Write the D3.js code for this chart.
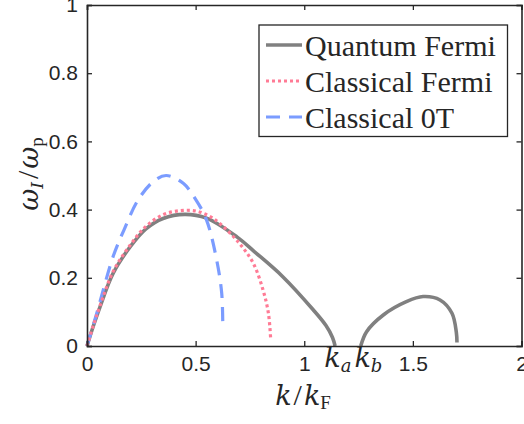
<!DOCTYPE html>
<html>
<head>
<meta charset="utf-8">
<script src="https://cdn.jsdelivr.net/npm/d3@7"></script>
<style>
  body { margin: 0; background: #fff; }
  svg text { fill: #262626; }
  .ser { font-family: "Liberation Serif", "Times New Roman", serif; }
  .it { font-family: "DejaVu Serif", serif; font-style: italic; }
</style>
</head>
<body>
<div id="canvas"></div>
<script>
// data
const kQuantumA = [0, 0.03, 0.06, 0.12, 0.2, 0.27, 0.35, 0.45, 0.55, 0.69, 0.77, 0.9, 1.04, 1.1, 1.13, 1.142];
const wQuantumA = [0, 0.06, 0.115, 0.213, 0.292, 0.343, 0.374, 0.386, 0.375, 0.32, 0.277, 0.204, 0.107, 0.06, 0.025, 0];
const kQuantumB = [1.26, 1.287, 1.364, 1.47, 1.547, 1.625, 1.68, 1.70, 1.703];
const wQuantumB = [0, 0.042, 0.091, 0.13, 0.145, 0.135, 0.096, 0.04, 0.01];
const kClassFermi = [0, 0.03, 0.06, 0.12, 0.2, 0.27, 0.35, 0.43, 0.5, 0.56, 0.61, 0.70, 0.765, 0.81, 0.835, 0.845];
const wClassFermi = [0, 0.062, 0.118, 0.218, 0.297, 0.35, 0.385, 0.397, 0.396, 0.382, 0.36, 0.302, 0.243, 0.165, 0.096, 0.025];
const kClass0T = [0, 0.045, 0.12, 0.17, 0.235, 0.305, 0.364, 0.443, 0.5, 0.55, 0.597, 0.62, 0.625];
const wClass0T = [0, 0.096, 0.262, 0.34, 0.428, 0.482, 0.50, 0.477, 0.43, 0.37, 0.252, 0.155, 0.06];

const xTicks = [0, 0.5, 1, 1.5, 2];
const xTickLabels = ['0', '0.5', '1', '1.5', '2'];
const yTicks = [0, 0.2, 0.4, 0.6, 0.8, 1];
const yTickLabels = ['0', '0.2', '0.4', '0.6', '0.8', '1'];
const legendNames = ['Quantum Fermi', 'Classical Fermi', 'Classical 0T'];

const width = 524;
const height = 424;
const margin = { top: 5, left: 87, right: 2.5, bottom: 78 };

const svg = d3.select('#canvas').append('svg')
    .attr('width', width)
    .attr('height', height)
    .attr('viewBox', [0, 0, width, height]);

const xScale = d3.scaleLinear().domain([0, 2]).range([margin.left, width - margin.right]);
const yScale = d3.scaleLinear().domain([0, 1]).range([height - margin.bottom, margin.top]);

const axisColor = '#262626';
const line = d3.line()
    .x(d => xScale(d[0]))
    .y(d => yScale(d[1]))
    .curve(d3.curveCatmullRom.alpha(0.5));

const styles = [
  { color: '#808080', width: 3.6, dash: null },
  { color: '#ff7b95', width: 3.2, dash: '3,3' },
  { color: '#7b9cff', width: 3.2, dash: '14,9' }
];

const curves = [
  { s: 0, k: kQuantumA, w: wQuantumA },
  { s: 0, k: kQuantumB, w: wQuantumB },
  { s: 2, k: kClass0T, w: wClass0T },
  { s: 1, k: kClassFermi, w: wClassFermi }
];

const dataRegion = svg.append('g').attr('id', 'data');
curves.forEach(c => {
  const st = styles[c.s];
  dataRegion.append('path')
      .datum(d3.zip(c.k, c.w))
      .attr('d', line)
      .attr('fill', 'none')
      .attr('stroke', st.color)
      .attr('stroke-width', st.width)
      .attr('stroke-dasharray', st.dash);
});

// axes (box with inner ticks on all sides)
const tickLen = 5;
const xAxisB = d3.axisBottom(xScale).tickValues(xTicks).tickSize(-tickLen).tickPadding(10)
    .tickFormat((d, i) => xTickLabels[i]);
const xAxisT = d3.axisTop(xScale).tickValues(xTicks).tickSize(-tickLen).tickFormat('');
const yAxisL = d3.axisLeft(yScale).tickValues(yTicks).tickSize(-tickLen).tickPadding(9)
    .tickFormat((d, i) => yTickLabels[i]);
const yAxisR = d3.axisRight(yScale).tickValues(yTicks).tickSize(-tickLen).tickFormat('');

const axes = [
  svg.append('g').attr('transform', `translate(0,${yScale(0)})`).call(xAxisB),
  svg.append('g').attr('transform', `translate(0,${yScale(1)})`).call(xAxisT),
  svg.append('g').attr('transform', `translate(${xScale(0)},0)`).call(yAxisL),
  svg.append('g').attr('transform', `translate(${xScale(2)},0)`).call(yAxisR)
];
axes.forEach(g => {
  g.select('.domain').attr('stroke', axisColor).attr('stroke-width', 1.6);
  g.selectAll('.tick line').attr('stroke', axisColor).attr('stroke-width', 1.3);
  g.selectAll('.tick text')
      .attr('font-family', 'Liberation Sans, Arial, sans-serif')
      .attr('font-size', 21)
      .attr('fill', axisColor);
});

// k_a / k_b labels
[['k', 'a', 1.155], ['k', 'b', 1.295]].forEach(([main, sub, kx]) => {
  const t = svg.append('text')
      .attr('class', 'it')
      .attr('x', xScale(kx))
      .attr('y', 367)
      .attr('text-anchor', 'middle')
      .attr('font-size', 27)
      .attr('fill', '#000');
  t.append('tspan').text(main);
  t.append('tspan').attr('font-size', 18).attr('dy', 5).text(sub);
});

// x label
const xl = svg.append('text')
    .attr('class', 'ser')
    .attr('x', 303).attr('y', 405)
    .attr('text-anchor', 'middle')
    .attr('font-size', 30)
    .attr('fill', '#000');
xl.append('tspan').attr('class', 'it').attr('font-size', 27).text('k');
xl.append('tspan').attr('dx', 2).text('/');
xl.append('tspan').attr('class', 'it').attr('font-size', 27).attr('dx', 2).text('k');
xl.append('tspan').attr('font-size', 19).attr('dy', 4).text('F');

// y label
const yl = svg.append('text')
    .attr('class', 'ser')
    .attr('transform', 'translate(38,174) rotate(-90)')
    .attr('text-anchor', 'middle')
    .attr('font-size', 30)
    .attr('fill', '#000');
yl.append('tspan').attr('class', 'it').attr('font-size', 27).text('ω');
yl.append('tspan').attr('class', 'it').attr('font-size', 17).attr('dy', 5).text('I');
yl.append('tspan').attr('dy', -5).attr('dx', 3).text('/');
yl.append('tspan').attr('class', 'it').attr('font-size', 27).attr('dx', 2).text('ω');
yl.append('tspan').attr('font-size', 19).attr('dy', 5).text('p');

// legend
const legend = svg.append('g').attr('id', 'legend');
legend.append('rect')
    .attr('x', 259).attr('y', 25)
    .attr('width', 248.5).attr('height', 111.5)
    .attr('fill', '#fff')
    .attr('stroke', axisColor)
    .attr('stroke-width', 1.3);
legendNames.forEach((name, i) => {
  const st = styles[i];
  const cy = 45 + i * 36;
  legend.append('line')
      .attr('x1', 266).attr('x2', 302)
      .attr('y1', cy).attr('y2', cy)
      .attr('stroke', st.color)
      .attr('stroke-width', st.width)
      .attr('stroke-dasharray', st.dash);
  legend.append('text')
      .attr('class', 'ser')
      .attr('x', 305).attr('y', cy + 11)
      .attr('font-size', 30)
      .attr('fill', '#000')
      .text(name);
});
</script>
</body>
</html>
